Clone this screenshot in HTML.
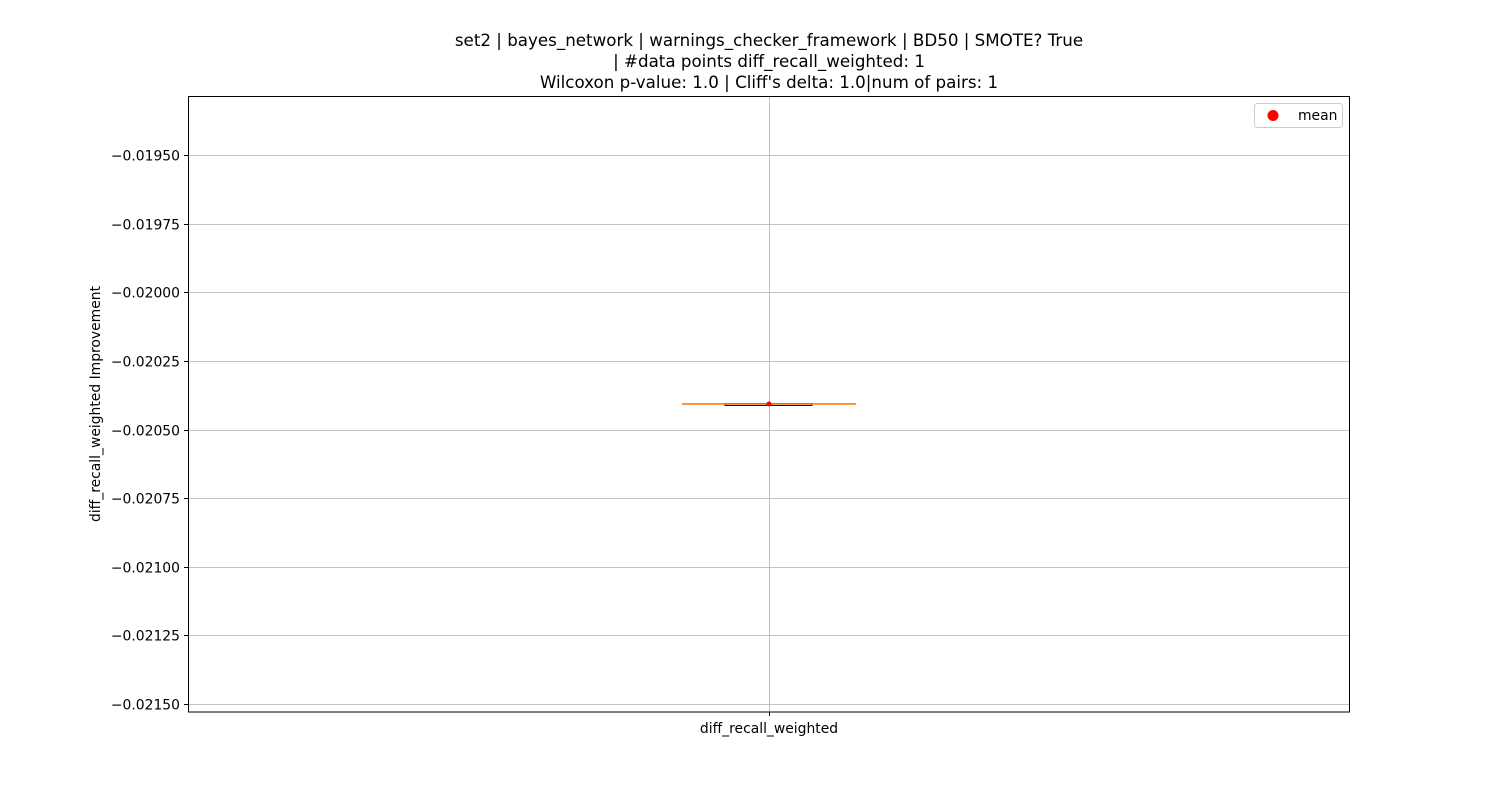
<!DOCTYPE html>
<html><head><meta charset="utf-8"><style>body{margin:0;background:#fff}svg{display:block;font-family:"DejaVu Sans","Liberation Sans",sans-serif}</style></head>
<body>
<svg id="chart" width="1500" height="800">
<rect width="1500" height="800" fill="#fff"/>
<g font-size="16.7" text-anchor="middle" fill="#000">
<text x="769" y="46">set2 | bayes_network | warnings_checker_framework | BD50 | SMOTE? True</text>
<text x="769" y="67">| #data points diff_recall_weighted: 1</text>
<text x="769" y="88">Wilcoxon p-value: 1.0 | Cliff's delta: 1.0|num of pairs: 1</text>
</g>
<g id="grid"></g><g id="yticks"></g><g id="marks"></g>
<rect x="188.5" y="96.5" width="1161" height="615.5" fill="none" stroke="#000" stroke-width="1"/>
<text x="100" y="404" font-size="13.9" text-anchor="middle" transform="rotate(-90 100 404)">diff_recall_weighted Improvement</text>
<text x="769" y="733" font-size="13.9" text-anchor="middle">diff_recall_weighted</text>
<g>
<rect x="1254.5" y="103.5" width="88" height="24" rx="3" fill="#fff" stroke="#ccc"/>
<circle cx="1273" cy="115.5" r="5.5" fill="#ff0000"/>
<text x="1298" y="120" font-size="13.9">mean</text>
</g>
</svg>
<script>
const yTicks=[-0.0195,-0.01975,-0.02,-0.02025,-0.0205,-0.02075,-0.021,-0.02125,-0.0215];
const yTickLabels=["\u22120.01950","\u22120.01975","\u22120.02000","\u22120.02025","\u22120.02050","\u22120.02075","\u22120.02100","\u22120.02125","\u22120.02150"];
const categories=["diff_recall_weighted"];
const medians=[-0.020407];
const q1s=[-0.020407];
const q3s=[-0.020407];
const whiskLo=[-0.020407];
const whiskHi=[-0.020407];
const means=[-0.020407];
const NS="http://www.w3.org/2000/svg";
function y(v){return 155+(-0.0195-v)/0.00025*68.625;}
function x(i){return 769+i*0;}
function mk(p,t,a){const e=document.createElementNS(NS,t);for(const k in a)e.setAttribute(k,a[k]);p.appendChild(e);return e;}
const grid=document.getElementById('grid'),yt=document.getElementById('yticks'),m=document.getElementById('marks');
yTicks.forEach((v,i)=>{
 const yy=Math.round(y(v))+0.5;
 const g=mk(grid,'line',{x1:188,x2:1350,y1:yy,y2:yy,stroke:'#b0b0b0','stroke-width':0.8});
 
 
 mk(yt,'line',{x1:184,x2:188,y1:yy,y2:yy,stroke:'#000'});
 const t=mk(yt,'text',{x:180,y:yy+5,'font-size':13.9,'text-anchor':'end'});
 t.textContent=yTickLabels[i];
 
 
});
categories.forEach((c,i)=>{
 const cx=x(i);
 const vg=mk(grid,'line',{x1:cx+0.5,x2:cx+0.5,y1:96,y2:712,stroke:'#b0b0b0','stroke-width':0.8});
 
 
 mk(yt,'line',{x1:cx+0.5,x2:cx+0.5,y1:712,y2:716,stroke:'#000'});
 const b=mk(m,'g',{});
 
 
 mk(b,'line',{x1:cx,x2:cx,y1:y(whiskHi[i]),y2:y(q3s[i]),stroke:'#000'});
 mk(b,'line',{x1:cx,x2:cx,y1:y(whiskLo[i]),y2:y(q1s[i]),stroke:'#000'});
 mk(b,'line',{x1:cx-87,x2:cx+87,y1:y(whiskHi[i]),y2:y(whiskHi[i]),stroke:'#000'});
 mk(b,'line',{x1:cx-87,x2:cx+87,y1:y(whiskLo[i]),y2:y(whiskLo[i]),stroke:'#000'});
 mk(b,'rect',{x:cx-44,y:y(q3s[i])-0.5,width:87,height:Math.max(1,y(q1s[i])-y(q3s[i]))+1,fill:'none',stroke:'#000'});
 mk(b,'line',{x1:cx-87,x2:cx+87,y1:y(medians[i]),y2:y(medians[i]),stroke:'#ff7f0e','stroke-width':1.6});
 const mc=mk(m,'circle',{cx:cx,cy:y(means[i]),r:2.5,fill:'#ff0000'});
 
 
});
</script>
</body></html>
